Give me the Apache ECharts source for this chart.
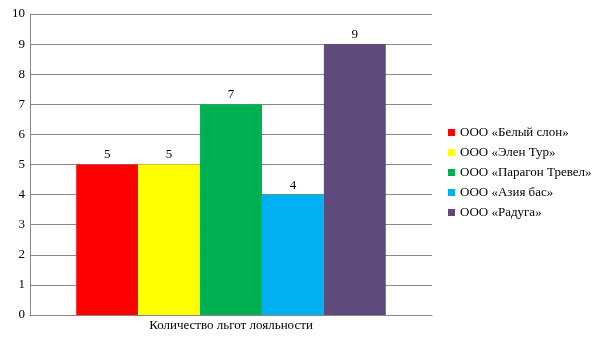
<!DOCTYPE html>
<html><head><meta charset="utf-8">
<script src="https://cdn.jsdelivr.net/npm/echarts@6/dist/echarts.min.js"></script>
<style>html,body{margin:0;padding:0;background:#fff}#c{width:605px;height:340px}</style>
</head><body><div id="c"></div>
<script>
var categories = ['Количество льгот лояльности'];
var seriesNames = ['ООО «Белый слон»', 'ООО «Элен Тур»', 'ООО «Парагон Тревел»', 'ООО «Азия бас»', 'ООО «Радуга»'];
var seriesValues = [5, 5, 7, 4, 9];
var seriesColors = ['#FF0000', '#FFFF00', '#00B050', '#00B0F0', '#604A7B'];
var yTicks = [0, 1, 2, 3, 4, 5, 6, 7, 8, 9, 10];

var font = '"Liberation Serif", "DejaVu Serif", serif';
var chart = echarts.init(document.getElementById('c'));
chart.setOption({
  animation: false,
  textStyle: { fontFamily: font },
  grid: { left: 30, right: 173, top: 14, bottom: 25, containLabel: false },
  legend: {
    orient: 'vertical', left: 443, top: 121,
    itemWidth: 7, itemHeight: 7, itemGap: 7,
    icon: 'rect',
    textStyle: { fontFamily: font, fontSize: 13, color: '#000' },
    data: seriesNames
  },
  xAxis: {
    type: 'category', data: categories,
    axisLine: { lineStyle: { color: '#888' } },
    axisTick: { show: false },
    axisLabel: { color: '#000', fontSize: 13, fontFamily: font, margin: 4 }
  },
  yAxis: {
    type: 'value', min: yTicks[0], max: yTicks[yTicks.length - 1], interval: 1,
    axisLine: { show: true, lineStyle: { color: '#888' } },
    axisTick: { show: false },
    splitLine: { lineStyle: { color: '#888' } },
    axisLabel: { color: '#000', fontSize: 13, fontFamily: font, margin: 5 }
  },
  series: seriesNames.map(function (n, i) {
    return {
      name: n, type: 'bar', data: [seriesValues[i]],
      barGap: '0%', barCategoryGap: '23%',
      itemStyle: { color: seriesColors[i] },
      label: { show: true, position: 'top', color: '#000', fontSize: 13, fontFamily: font, distance: 3 }
    };
  })
});
</script></body></html>
